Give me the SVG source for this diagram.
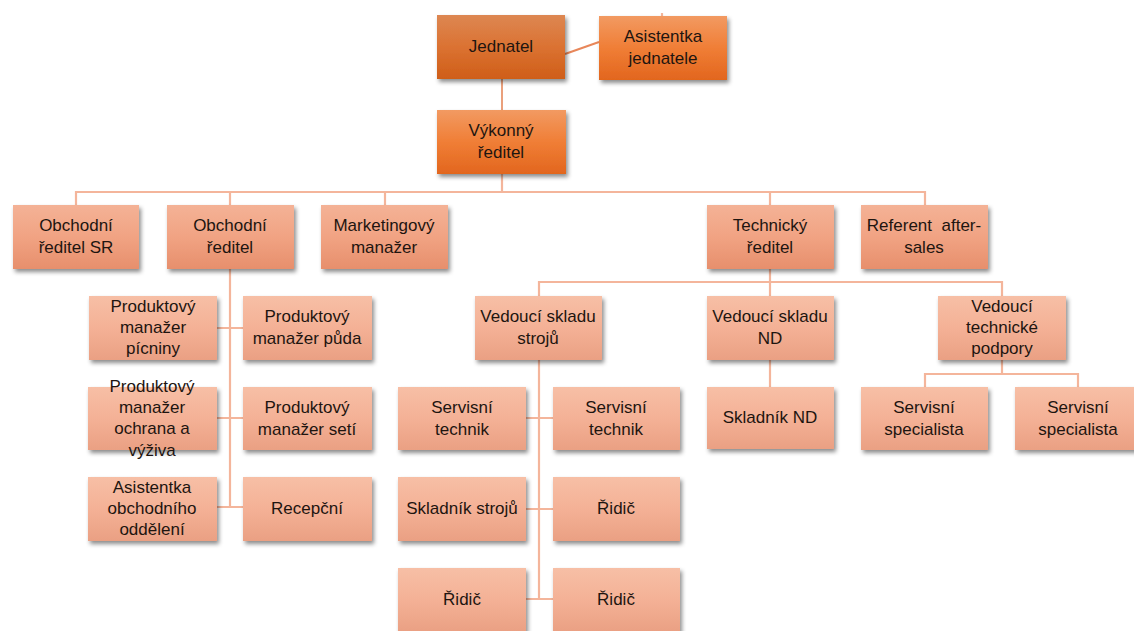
<svg xmlns="http://www.w3.org/2000/svg" width="1134" height="631" viewBox="0 0 1134 631">
<defs>
<linearGradient id="gDark" x1="0" y1="0" x2="0" y2="1"><stop offset="0" stop-color="#dd8752"/><stop offset="0.5" stop-color="#db7232"/><stop offset="1" stop-color="#cf5e18"/></linearGradient>
<linearGradient id="gOrange" x1="0" y1="0" x2="0" y2="1"><stop offset="0" stop-color="#f29a62"/><stop offset="0.5" stop-color="#f07e36"/><stop offset="1" stop-color="#e2661e"/></linearGradient>
<linearGradient id="gMid" x1="0" y1="0" x2="0" y2="1"><stop offset="0" stop-color="#f4b296"/><stop offset="0.5" stop-color="#f1a383"/><stop offset="1" stop-color="#e78f6c"/></linearGradient>
<linearGradient id="gLight" x1="0" y1="0" x2="0" y2="1"><stop offset="0" stop-color="#f7bfa6"/><stop offset="0.5" stop-color="#f4b196"/><stop offset="1" stop-color="#eaa083"/></linearGradient>
<filter id="sh" x="-10%" y="-10%" width="130%" height="140%"><feDropShadow dx="2" dy="3" stdDeviation="2" flood-color="#000" flood-opacity="0.45"/></filter>
</defs>
<style>
rect{filter:url(#sh)}
.dark{fill:url(#gDark)}
.or{fill:url(#gOrange)}
.mid{fill:url(#gMid)}
.lt{fill:url(#gLight)}
text{font-family:"Liberation Sans",Arial,sans-serif;font-size:17px;fill:#1e1510;text-anchor:middle}
.pre{white-space:pre}
.c{fill:none;stroke:#f4b59b;stroke-width:2.2}
.c2{fill:none;stroke:#e8875a;stroke-width:2}
</style>
<rect width="1134" height="631" fill="#fff" style="filter:none"/>
<g id="connectors">
<line class="c2" x1="565" y1="54" x2="599" y2="42"/>
<line class="c2" x1="502" y1="79" x2="502" y2="110" style="stroke:#eaa07c"/>
<line class="c" x1="662" y1="13" x2="662" y2="16"/>
<path class="c" d="M502 174V192M76 205V192H925V205M230 192V205M385 192V205M770 192V205"/>
<path class="c" d="M230 269V507M217 328H243M217 418H243M217 507H243"/>
<path class="c" d="M770 269V282M539 296V282H1002V296M770 282V296"/>
<path class="c" d="M539 360V599M526 418H553M526 509H553M526 599H553"/>
<path class="c" d="M770 360V387"/>
<path class="c" d="M1002 360V374M925 387V374H1078V387"/>
</g>
<g id="n-jednatel"><rect class="dark" x="437" y="15" width="128" height="64"/><text x="501" y="52">Jednatel</text></g>
<g id="n-asistentka-jednatele"><rect class="or" x="599" y="16" width="128" height="64"/><text x="663" y="42">Asistentka</text><text x="663" y="64">jednatele</text></g>
<g id="n-vykonny"><rect class="or" x="437" y="110" width="129" height="64"/><text x="501" y="136">Výkonný</text><text x="501" y="158">ředitel</text></g>
<g id="n-obch-sr"><rect class="mid" x="13" y="205" width="126" height="64"/><text x="76" y="231">Obchodní</text><text x="76" y="253">ředitel SR</text></g>
<g id="n-obch"><rect class="mid" x="167" y="205" width="127" height="64"/><text x="230" y="231">Obchodní</text><text x="230" y="253">ředitel</text></g>
<g id="n-marketing"><rect class="mid" x="321" y="205" width="127" height="64"/><text x="384" y="231">Marketingový</text><text x="384" y="253">manažer</text></g>
<g id="n-technicky"><rect class="mid" x="707" y="205" width="127" height="64"/><text x="770" y="231">Technický</text><text x="770" y="253">ředitel</text></g>
<g id="n-referent"><rect class="mid" x="861" y="205" width="127" height="64"/><text class="pre" x="924" y="231">Referent  after-</text><text x="924" y="253">sales</text></g>
<g id="n-pm-picniny"><rect class="lt" x="89" y="296" width="128" height="64"/><text x="153" y="312">Produktový</text><text x="153" y="333">manažer</text><text x="153" y="354">pícniny</text></g>
<g id="n-pm-puda"><rect class="lt" x="243" y="296" width="129" height="64"/><text x="307" y="322">Produktový</text><text x="307" y="344">manažer půda</text></g>
<g id="n-pm-ochrana"><rect class="lt" x="88" y="387" width="129" height="63"/><text x="152" y="392">Produktový</text><text x="152" y="413">manažer</text><text x="152" y="434">ochrana a</text><text x="152" y="456">výživa</text></g>
<g id="n-pm-seti"><rect class="lt" x="243" y="387" width="129" height="63"/><text x="307" y="413">Produktový</text><text x="307" y="435">manažer setí</text></g>
<g id="n-asist-obch"><rect class="lt" x="88" y="477" width="129" height="64"/><text x="152" y="493">Asistentka</text><text x="152" y="514">obchodního</text><text x="152" y="535">oddělení</text></g>
<g id="n-recepcni"><rect class="lt" x="243" y="477" width="129" height="64"/><text x="307" y="514">Recepční</text></g>
<g id="n-ved-stroju"><rect class="lt" x="475" y="296" width="127" height="64"/><text x="538" y="322">Vedoucí skladu</text><text x="538" y="344">strojů</text></g>
<g id="n-ved-nd"><rect class="lt" x="707" y="296" width="127" height="64"/><text x="770" y="322">Vedoucí skladu</text><text x="770" y="344">ND</text></g>
<g id="n-ved-tp"><rect class="lt" x="938" y="296" width="128" height="64"/><text x="1002" y="312">Vedoucí</text><text x="1002" y="333">technické</text><text x="1002" y="354">podpory</text></g>
<g id="n-serv-tech-1"><rect class="lt" x="398" y="387" width="128" height="63"/><text x="462" y="413">Servisní</text><text x="462" y="435">technik</text></g>
<g id="n-serv-tech-2"><rect class="lt" x="553" y="387" width="127" height="63"/><text x="616" y="413">Servisní</text><text x="616" y="435">technik</text></g>
<g id="n-skladnik-stroju"><rect class="lt" x="398" y="477" width="128" height="64"/><text x="462" y="514">Skladník strojů</text></g>
<g id="n-ridic-1"><rect class="lt" x="553" y="477" width="127" height="64"/><text x="616" y="514">Řidič</text></g>
<g id="n-ridic-2"><rect class="lt" x="398" y="568" width="128" height="64"/><text x="462" y="605">Řidič</text></g>
<g id="n-ridic-3"><rect class="lt" x="553" y="568" width="127" height="64"/><text x="616" y="605">Řidič</text></g>
<g id="n-skladnik-nd"><rect class="lt" x="707" y="387" width="127" height="62"/><text x="770" y="423">Skladník ND</text></g>
<g id="n-serv-spec-1"><rect class="lt" x="861" y="387" width="127" height="63"/><text x="924" y="413">Servisní</text><text x="924" y="435">specialista</text></g>
<g id="n-serv-spec-2"><rect class="lt" x="1015" y="387" width="127" height="63"/><text x="1078" y="413">Servisní</text><text x="1078" y="435">specialista</text></g>
</svg>
